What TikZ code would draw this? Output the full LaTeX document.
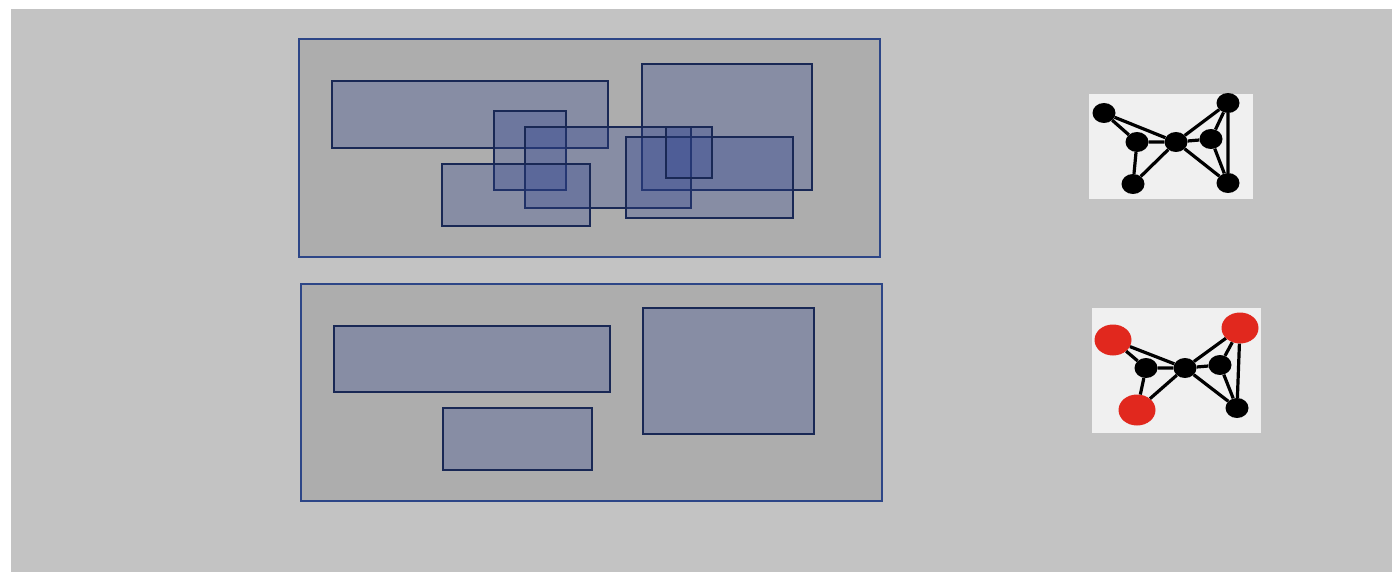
\documentclass[tikz,border=0pt]{standalone}
\usetikzlibrary{shapes.geometric}
\definecolor{bggray}{RGB}{195,195,195}
\definecolor{panelgray}{RGB}{173,173,173}
\definecolor{panelline}{RGB}{45,70,135}
\definecolor{boxfill}{RGB}{50,70,145}
\definecolor{boxline}{RGB}{25,40,85}
\definecolor{graphbg}{RGB}{240,240,240}
\definecolor{redn}{RGB}{225,40,30}
\begin{document}
\begin{tikzpicture}[x=1pt,y=-1pt,
  panel/.style={draw=panelline,fill=panelgray,line width=2.6pt},
  region/.style={draw=boxline,line width=2.4pt,fill=boxfill,fill opacity=0.3},
  gnode/.style={ellipse,fill=black,inner sep=0pt,minimum width=23pt,minimum height=20pt},
  rnode/.style={ellipse,fill=redn,inner sep=0pt,minimum width=37pt,minimum height=31pt},
  gedge/.style={line width=3.2pt,black}]
\useasboundingbox (0,0) rectangle (1392,572);
\fill[white] (0,0) rectangle (1392,572);
\fill[bggray] (11,9) rectangle (1392,572);
% top panel
\draw[panel] (299,39) rectangle (880,257);
\draw[region] (332,81) rectangle (608,148);
\draw[region] (642,64) rectangle (812,190);
\draw[region] (494,111) rectangle (566,190);
\draw[region] (525,127) rectangle (691,208);
\draw[region] (442,164) rectangle (590,226);
\draw[region] (626,137) rectangle (793,218);
\draw[region] (666,127) rectangle (712,178);
% bottom panel
\draw[panel] (301,284) rectangle (882,501);
\draw[region] (334,326) rectangle (610,392);
\draw[region] (643,308) rectangle (814,434);
\draw[region] (443,408) rectangle (592,470);
% graph 1
\fill[graphbg] (1089,94) rectangle (1253,199);
\node[gnode] (a1) at (1104,113) {};
\node[gnode] (a2) at (1137,142) {};
\node[gnode] (a3) at (1176,142) {};
\node[gnode] (a4) at (1211,139) {};
\node[gnode] (a5) at (1228,103) {};
\node[gnode] (a6) at (1133,184) {};
\node[gnode] (a7) at (1228,183) {};
\draw[gedge] (a1)--(a2) (a1)--(a3) (a2)--(a3) (a2)--(a6) (a6)--(a3)
  (a3)--(a4) (a3)--(a5) (a3)--(a7) (a4)--(a5) (a4)--(a7) (a5)--(a7);
% graph 2
\fill[graphbg] (1092,308) rectangle (1261,433);
\node[rnode] (b1) at (1113,340) {};
\node[gnode] (b2) at (1146,368) {};
\node[gnode] (b3) at (1185,368) {};
\node[gnode] (b4) at (1220,365) {};
\node[rnode] (b5) at (1240,328) {};
\node[rnode] (b6) at (1137,410) {};
\node[gnode] (b7) at (1237,408) {};
\draw[gedge] (b1)--(b2) (b1)--(b3) (b2)--(b3) (b2)--(b6) (b6)--(b3)
  (b3)--(b4) (b3)--(b5) (b3)--(b7) (b4)--(b5) (b4)--(b7) (b5)--(b7);
\end{tikzpicture}
\end{document}
